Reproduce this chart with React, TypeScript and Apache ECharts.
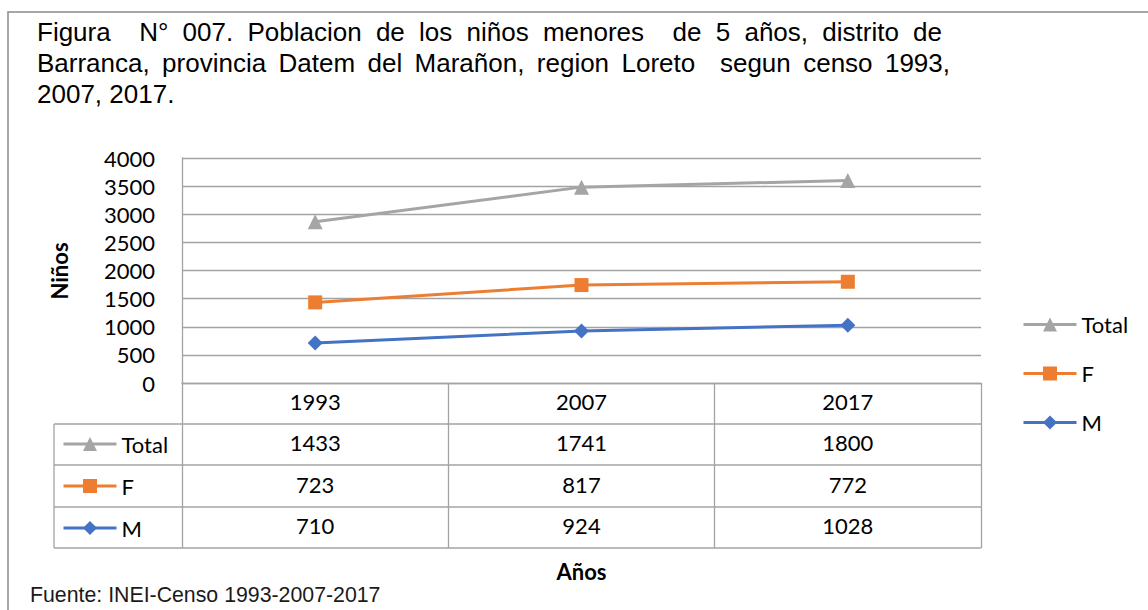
import React, { useEffect, useRef } from "react";
import * as echarts from "echarts";

// ---------- data ----------
const years = ["1993", "2007", "2017"];
const totalValues = [1433, 1741, 1800];
const femaleValues = [723, 817, 772];
const maleValues = [710, 924, 1028];
const seriesNames = ["Total", "F", "M"];
const yMin = 0;
const yMax = 4000;
const yInterval = 500;
const titleLines = [
  "Figura  N° 007. Poblacion de los niños menores  de 5 años, distrito de",
  "Barranca, provincia Datem del Marañon, region Loreto  segun censo 1993,",
  "2007, 2017.",
];
const yAxisTitle = "Niños";
const xAxisTitle = "Años";
const sourceText = "Fuente: INEI-Censo 1993-2007-2017";

// ---------- layout / style ----------
const W = 1148;
const H = 610;
const PLOT = { left: 182, right: 981, top: 158, bottom: 383 };
const TABLE = { left: 54, rows: [424, 465, 507, 548] };
const COLORS = { total: "#A5A5A5", f: "#ED7D31", m: "#4472C4", grid: "#A3A3A3", text: "#000000" };
const CHART_FONT = "Lato";
const TITLE_FONT = "Liberation Sans";
const TITLE_SIZE = 26;

function justifiedLine(line: string, x0: number, right: number | null, y: number) {
  const canvas = document.createElement("canvas");
  const ctx = canvas.getContext("2d")!;
  ctx.font = `${TITLE_SIZE}px "${TITLE_FONT}"`;
  const spaceW = ctx.measureText(" ").width;
  const tokens = line.split(" ");
  const words: { t: string; sp: number; w: number }[] = [];
  let sp = 0;
  for (const t of tokens) {
    if (t === "") {
      sp++;
      continue;
    }
    words.push({ t, sp: words.length ? sp : 0, w: ctx.measureText(t).width });
    sp = 1;
  }
  const nSp = words.reduce((a, w) => a + w.sp, 0);
  const natural = words.reduce((a, w) => a + w.w + w.sp * spaceW, 0);
  const extra = right != null && nSp > 0 ? (right - x0 - natural) / nSp : 0;
  const out: any[] = [];
  let x = x0;
  for (const w of words) {
    x += w.sp * (spaceW + extra);
    out.push({
      type: "text",
      x,
      y,
      style: {
        text: w.t,
        fontFamily: TITLE_FONT,
        fontSize: TITLE_SIZE,
        fill: COLORS.text,
        align: "left",
        verticalAlign: "middle",
      },
    });
    x += w.w;
  }
  return out;
}

export default function App() {
  const ref = useRef<HTMLDivElement>(null);

  useEffect(() => {
    if (!ref.current) return;
    const chart = echarts.init(ref.current, undefined, { renderer: "svg" });

    const labelStyle = {
      fontFamily: CHART_FONT,
      fontSize: 22,
      color: COLORS.text,
      lineHeight: 22,
    };
    const gridLine = { color: COLORS.grid, width: 1.3 };

    const tableAxis = (values: number[], margin: number) => ({
      type: "category",
      data: years,
      position: "bottom",
      boundaryGap: true,
      axisLine: { show: false },
      axisTick: { show: false },
      splitLine: { show: false },
      axisLabel: {
        ...labelStyle,
        margin,
        interval: 0,
        formatter: (_v: string, i: number) => String(values[i]),
      },
    });

    const graphics: any[] = [
      {
        type: "rect",
        shape: { x: 8, y: 12, width: 1200, height: 700 },
        style: { fill: "none", stroke: "#8A8A8A", lineWidth: 1.5 },
        silent: true,
      },
      ...justifiedLine(titleLines[0], 37, 942, 31.5),
      ...justifiedLine(titleLines[1], 37, 950, 62.5),
      ...justifiedLine(titleLines[2], 37, null, 93.5),
      ...TABLE.rows.map((y) => ({
        type: "line",
        shape: { x1: TABLE.left, y1: y, x2: PLOT.right, y2: y },
        style: { stroke: COLORS.grid, lineWidth: 1.3 },
        silent: true,
      })),
      {
        type: "line",
        shape: { x1: TABLE.left, y1: TABLE.rows[0], x2: TABLE.left, y2: TABLE.rows[TABLE.rows.length - 1] },
        style: { stroke: COLORS.grid, lineWidth: 1.3 },
        silent: true,
      },
      {
        type: "text",
        x: 59,
        y: 271,
        rotation: Math.PI / 2,
        style: {
          text: yAxisTitle,
          fontFamily: CHART_FONT,
          fontWeight: "bold",
          fontSize: 22,
          fill: COLORS.text,
          align: "center",
          verticalAlign: "middle",
        },
      },
      {
        type: "text",
        x: (PLOT.left + PLOT.right) / 2,
        y: 571,
        style: {
          text: xAxisTitle,
          fontFamily: CHART_FONT,
          fontWeight: "bold",
          fontSize: 22,
          fill: COLORS.text,
          align: "center",
          verticalAlign: "middle",
        },
      },
      {
        type: "text",
        x: 30,
        y: 595,
        style: {
          text: sourceText,
          fontFamily: TITLE_FONT,
          fontSize: 21.3,
          fill: "#1a1a1a",
          align: "left",
          verticalAlign: "middle",
        },
      },
    ];

    const legendBase = {
      data: seriesNames,
      orient: "vertical",
      itemWidth: 53,
      itemHeight: 17.5,
      padding: 0,
      selectedMode: false,
      lineStyle: { width: 3 },
      textStyle: {
        fontFamily: CHART_FONT,
        fontSize: 22,
        color: COLORS.text,
        lineHeight: 22,
        padding: [0, 0, 6, 0],
      },
    };

    chart.setOption({
      animation: false,
      backgroundColor: "#ffffff",
      grid: {
        left: PLOT.left,
        top: PLOT.top,
        width: PLOT.right - PLOT.left,
        height: PLOT.bottom - PLOT.top,
        containLabel: false,
      },
      legend: [
        { ...legendBase, left: 1022, top: 310.5, itemGap: 21 },
        { ...legendBase, left: 62, top: 430, itemGap: 14 },
      ],
      xAxis: [
        {
          type: "category",
          data: years,
          position: "bottom",
          boundaryGap: true,
          axisLine: { show: true, lineStyle: gridLine },
          axisTick: {
            show: true,
            length: TABLE.rows[TABLE.rows.length - 1] - PLOT.bottom,
            interval: 0,
            lineStyle: gridLine,
          },
          splitLine: { show: false },
          axisLabel: { ...labelStyle, margin: 7, interval: 0 },
        },
        tableAxis(totalValues, 48),
        tableAxis(femaleValues, 90),
        tableAxis(maleValues, 131),
      ],
      yAxis: {
        type: "value",
        min: yMin,
        max: yMax,
        interval: yInterval,
        axisLine: { show: true, lineStyle: gridLine },
        axisTick: { show: false },
        splitLine: { show: true, lineStyle: gridLine },
        axisLabel: { ...labelStyle, margin: 27, formatter: (v: number) => String(v) },
      },
      series: [
        {
          name: "M",
          type: "line",
          stack: "total",
          data: maleValues,
          symbol: "diamond",
          symbolSize: 15,
          lineStyle: { color: COLORS.m, width: 3 },
          itemStyle: { color: COLORS.m },
        },
        {
          name: "F",
          type: "line",
          stack: "total",
          data: femaleValues,
          symbol: "rect",
          symbolSize: 14,
          lineStyle: { color: COLORS.f, width: 3 },
          itemStyle: { color: COLORS.f },
        },
        {
          name: "Total",
          type: "line",
          stack: "total",
          data: totalValues,
          symbol: "triangle",
          symbolSize: 15,
          lineStyle: { color: COLORS.total, width: 3 },
          itemStyle: { color: COLORS.total },
        },
      ],
      graphic: graphics,
    });

    return () => chart.dispose();
  }, []);

  return (
    <div
      ref={ref}
      style={{ position: "fixed", left: 0, top: 0, width: W, height: H, background: "#fff" }}
    />
  );
}
